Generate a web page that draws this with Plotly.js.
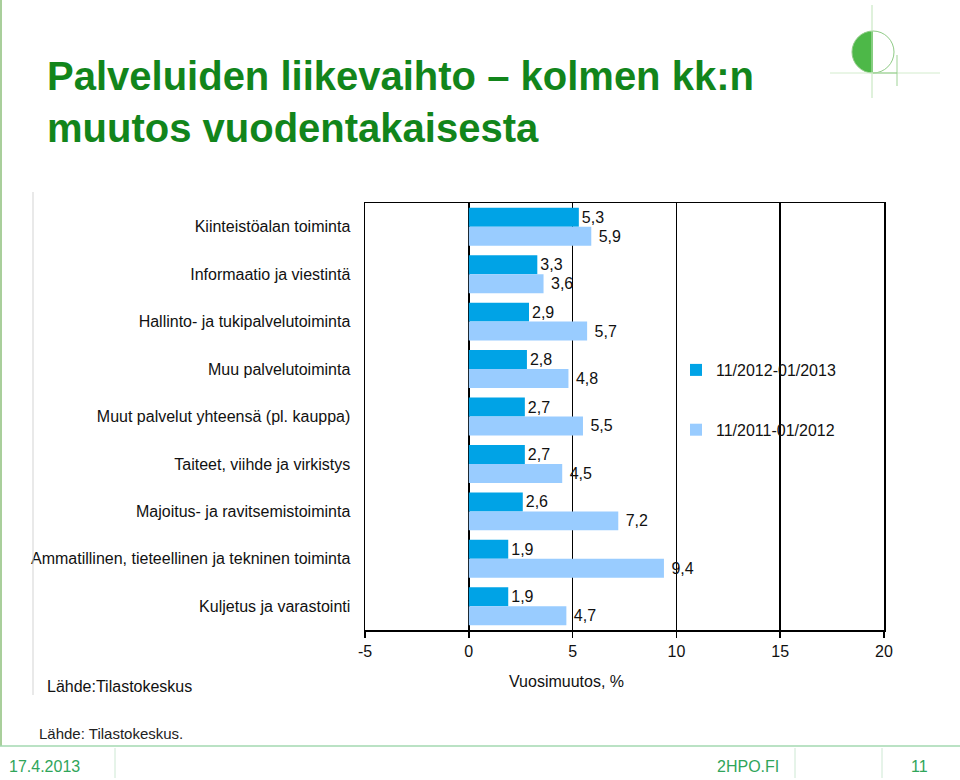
<!DOCTYPE html>
<html>
<head>
<meta charset="utf-8">
<script src="https://cdn.plot.ly/plotly-3.0.1.min.js"></script>
<style>
html,body{margin:0;padding:0;background:#fff;}
#chart{width:960px;height:780px;}
</style>
</head>
<body>
<div id="chart"></div>
<script>
// ---- data ----
var categories = [
  'Kiinteistöalan toiminta',
  'Informaatio ja viestintä',
  'Hallinto- ja tukipalvelutoiminta',
  'Muu palvelutoiminta',
  'Muut palvelut yhteensä (pl. kauppa)',
  'Taiteet, viihde ja virkistys',
  'Majoitus- ja ravitsemistoiminta',
  'Ammatillinen, tieteellinen ja tekninen toiminta',
  'Kuljetus ja varastointi'
];
var series2013 = [5.3, 3.3, 2.9, 2.8, 2.7, 2.7, 2.6, 1.9, 1.9];
var series2012 = [5.9, 3.6, 5.7, 4.8, 5.5, 4.5, 7.2, 9.4, 4.7];
var seriesNames = ['11/2012-01/2013', '11/2011-01/2012'];
var xTicks = [-5, 0, 5, 10, 15, 20];

// ---- layout helpers (pixel -> paper) ----
var W = 960, H = 780, ML = 365, MR = 76, MT = 203, MB = 150;
var PW = W - ML - MR, PH = H - MT - MB;
function px(x){ return (x - ML) / PW; }
function py(y){ return (H - MB - y) / PH; }
var FONT = 'Liberation Sans, Arial, sans-serif';

var traces = [
  {
    type: 'bar', orientation: 'h', name: seriesNames[0],
    y: categories, x: series2013,
    marker: {color: '#00A3E6'},
    texttemplate: '%{x:.1f}', textposition: 'outside',
    textfont: {family: FONT, size: 16, color: '#111'},
    constraintext: 'none', cliponaxis: false,
    legendgroup: 'a', hoverinfo: 'x+y'
  },
  {
    type: 'bar', orientation: 'h', name: seriesNames[1],
    y: categories, x: series2012,
    marker: {color: '#99CCFF'},
    texttemplate: '\u00a0%{x:.1f}', textposition: 'outside',
    textfont: {family: FONT, size: 16, color: '#111'},
    constraintext: 'none', cliponaxis: false,
    legendgroup: 'b', hoverinfo: 'x+y'
  }
];

function line(x0,y0,x1,y1,color,w){
  return {type:'line', xref:'paper', yref:'paper', x0:px(x0), y0:py(y0), x1:px(x1), y1:py(y1),
          line:{color:color, width:w}, layer:'above'};
}

var shapes = [
  // slide left edge
  line(1, 0, 1, 746, '#A9CF9B', 2),
  // footer rule
  line(0, 746, 960, 746, '#A3D9B1', 1.5),
  line(115, 748, 115, 778, '#CDE8D3', 1),
  line(795, 748, 795, 778, '#CDE8D3', 1),
  line(882, 748, 882, 778, '#CDE8D3', 1),
  // embedded chart image edge
  line(33, 192, 33, 695, '#D3D3D3', 1),
  // logo
  {type:'circle', xref:'paper', yref:'paper', x0:px(852), x1:px(894), y0:py(31), y1:py(73),
   fillcolor:'#4DB848', line:{width:0}, layer:'above'},
  {type:'rect', xref:'paper', yref:'paper', x0:px(873), x1:px(896), y0:py(29), y1:py(75),
   fillcolor:'#ffffff', line:{width:0}, layer:'above'},
  {type:'circle', xref:'paper', yref:'paper', x0:px(852), x1:px(894), y0:py(31), y1:py(73),
   fillcolor:'rgba(0,0,0,0)', line:{color:'#8FCB86', width:1}, layer:'above'},
  line(872, 5, 872, 98, '#BFE3B8', 1),
  line(830, 73, 940, 73, '#D3ECCD', 1),
  line(897, 55, 897, 86, '#9FD397', 1),
  line(873, 73, 897, 73, '#8FCB86', 1)
];

var annotations = [
  {text:'Lähde:Tilastokeskus', xref:'paper', yref:'paper', x:px(45), y:py(686),
   xanchor:'left', yanchor:'middle', showarrow:false, font:{family:FONT, size:16, color:'#111'}},
  {text:'Vuosimuutos, %', xref:'paper', yref:'paper', x:px(566), y:py(681),
   xanchor:'center', yanchor:'middle', showarrow:false, font:{family:FONT, size:16, color:'#111'}},
  {text:'Lähde: Tilastokeskus.', xref:'paper', yref:'paper', x:px(37), y:py(733),
   xanchor:'left', yanchor:'middle', showarrow:false, font:{family:FONT, size:15, color:'#222'}},
  {text:'17.4.2013', xref:'paper', yref:'paper', x:px(7), y:py(766),
   xanchor:'left', yanchor:'middle', showarrow:false, font:{family:FONT, size:16, color:'#2FA55A'}},
  {text:'2HPO.FI', xref:'paper', yref:'paper', x:px(781), y:py(766),
   xanchor:'right', yanchor:'middle', showarrow:false, font:{family:FONT, size:16, color:'#2FA55A'}},
  {text:'11', xref:'paper', yref:'paper', x:px(919), y:py(766),
   xanchor:'center', yanchor:'middle', showarrow:false, font:{family:FONT, size:16, color:'#2FA55A'}}
];

var layout = {
  width: W, height: H,
  margin: {l: ML, r: MR, t: MT, b: MB, pad: 0},
  paper_bgcolor: '#ffffff', plot_bgcolor: '#ffffff',
  separators: ', ',
  title: {
    text: '<b>Palveluiden liikevaihto – kolmen kk:n<br>muutos vuodentakaisesta</b>',
    font: {family: FONT, size: 40, color: '#12851B'},
    x: 47 / W, xanchor: 'left', xref: 'container',
    y: 1 - 90 / H, yanchor: 'top', yref: 'container'
  },
  barmode: 'group', bargap: 0.2, bargroupgap: 0,
  showlegend: true,
  legend: {
    x: px(676), y: py(353), xanchor: 'left', yanchor: 'top',
    font: {family: FONT, size: 16, color: '#111'},
    bgcolor: 'rgba(0,0,0,0)', traceorder: 'grouped', tracegroupgap: 36,
    itemwidth: 30
  },
  xaxis: {
    range: [-5, 20], tickvals: xTicks, ticktext: xTicks.map(String),
    showgrid: true, gridcolor: '#000', gridwidth: 1.5,
    zeroline: true, zerolinecolor: '#000', zerolinewidth: 1.5,
    showline: true, linecolor: '#000', linewidth: 1.5, mirror: true,
    ticks: 'outside', ticklen: 6, tickwidth: 1.5, tickcolor: '#000',
    tickfont: {family: FONT, size: 16, color: '#111'},
    fixedrange: true
  },
  yaxis: {
    type: 'category', categoryorder: 'array', categoryarray: categories,
    autorange: 'reversed',
    showgrid: false, zeroline: false,
    showline: true, linecolor: '#000', linewidth: 1.5, mirror: true,
    ticks: 'outside', ticklen: 10, tickcolor: 'rgba(0,0,0,0)',
    tickfont: {family: FONT, size: 16, color: '#111'},
    fixedrange: true
  },
  shapes: shapes,
  annotations: annotations
};

Plotly.newPlot('chart', traces, layout, {displayModeBar: false, staticPlot: true});
</script>
</body>
</html>
